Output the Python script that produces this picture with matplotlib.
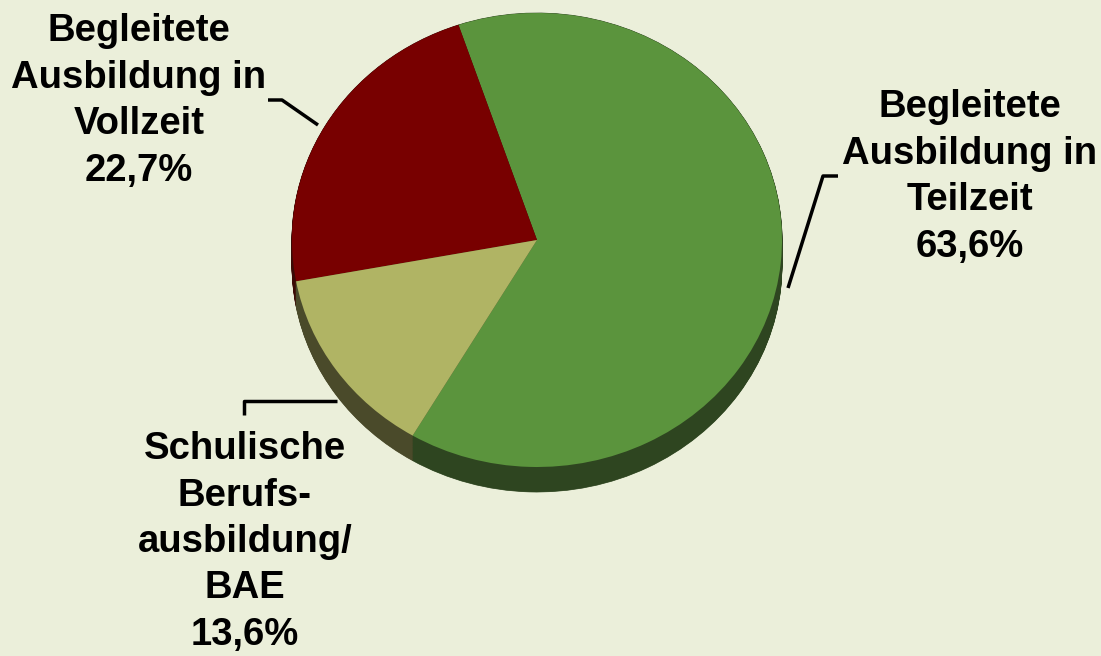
import numpy as np
import matplotlib.pyplot as plt
from matplotlib.patches import Wedge

plt.rcParams['font.family'] = ['Liberation Sans', 'DejaVu Sans']

labels = ['Begleitete\nAusbildung in\nTeilzeit\n63,6%',
          'Begleitete\nAusbildung in\nVollzeit\n22,7%',
          'Schulische\nBerufs-\nausbildung/\nBAE\n13,6%']
shares = [63.6, 22.7, 13.6]
top_colors = ['#5B943D', '#780000', '#B0B464']
side_colors = ['#2E4520', '#3C0A05', '#4A4A2A']

bg = '#EBEFDA'
W, H = 1101, 656
cx, cy, rx, ry = 537, 240, 245, 227


def px(x, y):
    # pixel position -> data coords (pie is unit circle)
    return (x - cx) / rx, (cy - y) / ry


fig = plt.figure(figsize=(W / 100, H / 100), dpi=100, facecolor=bg)
ax = fig.add_axes([0, 0, 1, 1])
ax.set_facecolor(bg)
ax.set_xlim(px(0, 0)[0], px(W, 0)[0])
ax.set_ylim(px(0, H)[1], px(0, 0)[1])
ax.axis('off')

start = -120.5
total = sum(shares)
angles = []
a = start
for s in shares:
    b = a + 360 * s / total
    angles.append((a, b))
    a = b

# side of the disc
depth = 25 / ry
for off in np.linspace(depth, 0, 40):
    for (a, b), c in zip(angles, side_colors):
        ax.add_patch(Wedge((0, -off), 1, a, b, facecolor=c, edgecolor=c, lw=0.5))

for (a, b), c in zip(angles, top_colors):
    ax.add_patch(Wedge((0, 0), 1, a, b, facecolor=c, edgecolor='none'))

txt = dict(ha='center', va='center', fontsize=27.5, fontweight='bold', linespacing=1.37, color='black')
ax.text(*px(970, 177), labels[0], **txt)
ax.text(*px(139, 101), labels[1], **txt)
ax.text(*px(245, 542), labels[2], **txt)

leaders = [[(838, 176), (823, 176), (788, 288)],
           [(268, 100), (282, 100), (318, 125)],
           [(244, 415), (244, 401), (337, 401)]]
for pts in leaders:
    xy = np.array([px(x, y) for x, y in pts])
    ax.plot(xy[:, 0], xy[:, 1], color='black', lw=2.5, solid_capstyle='butt')

fig.savefig('out.png', dpi=100, facecolor=bg)
